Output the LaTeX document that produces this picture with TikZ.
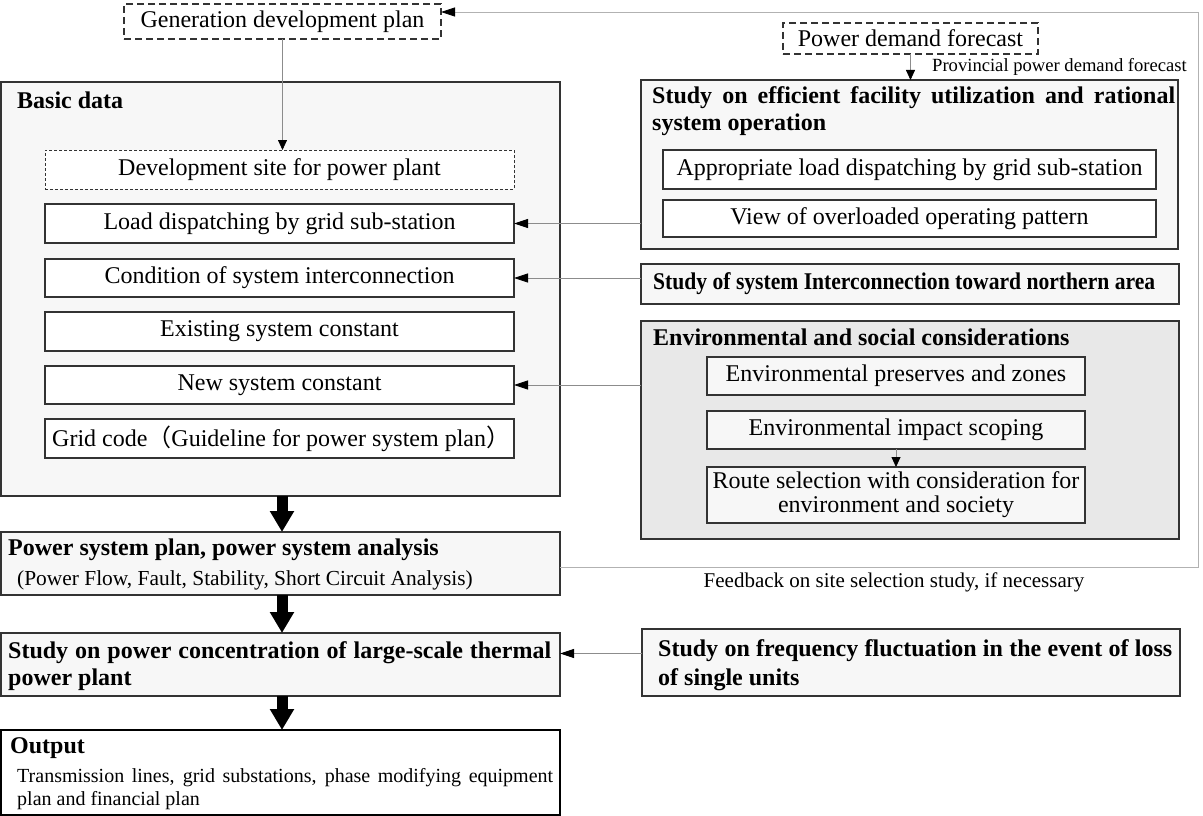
\documentclass[tikz,border=0pt]{standalone}
\usepackage{fontspec}
\setmainfont{Liberation Serif}
\newfontfamily\cjk{Noto Sans CJK SC}
\usetikzlibrary{arrows.meta}
\definecolor{lightfill}{HTML}{F7F7F7}
\definecolor{envfill}{HTML}{E8E8E8}
\definecolor{boxline}{HTML}{333333}
\definecolor{conn}{HTML}{8C8C8C}
\begin{document}
\begin{tikzpicture}[x=1pt,y=-1pt,
  box/.style={draw=boxline, line width=1.4pt, anchor=north west, inner sep=0pt, outer sep=0pt, align=center},
  outerbox/.style={box, fill=lightfill, line width=1.6pt},
  inbox/.style={box, fill=white, line width=1.2pt},
  dashbox/.style={box, fill=white, dash pattern=on 7pt off 4pt, line width=1.5pt},
  finedash/.style={box, fill=white, dash pattern=on 3pt off 2pt, line width=1pt},
  rtxt/.style={font=\fontsize{24}{27}\selectfont},
  btxt/.style={font=\fontsize{24}{27}\selectfont\bfseries},
  ttl/.style={btxt, inner sep=0pt, anchor=west},
  harr/.style={draw=conn, line width=0.8pt, -{Triangle[length=14pt,width=9pt,color=black]}},
  varr/.style={draw=conn, line width=0.8pt, -{Triangle[length=10pt,width=9pt,color=black]}},
  bigarr/.style={line width=11pt, black, -{Triangle[length=21pt,width=23pt]}},
  fbline/.style={draw=black!30, line width=0.8pt, -{Triangle[length=14pt,width=9pt,color=black]}}
]
\useasboundingbox (0,0) rectangle (1203,816);

% top dashed sources
\node[dashbox, rtxt, minimum width=317pt, minimum height=35pt] (gen) at (124,4) {Generation development plan};
\node[dashbox, rtxt, minimum width=255pt, minimum height=31pt] (pd) at (783,23) {Power demand forecast};

% Basic data
\node[outerbox, minimum width=559pt, minimum height=414pt] (basic) at (1,82) {};
\node[ttl] (basict) at (17,100) {Basic data};
\node[finedash, rtxt, minimum width=469pt, minimum height=39pt] (dev) at (45,150) {Development site for power plant};
\node[inbox, rtxt, minimum width=469pt, minimum height=39pt] (load) at (45,204) {Load dispatching by grid sub-station};
\node[inbox, rtxt, minimum width=469pt, minimum height=38pt] (cond) at (45,259) {Condition of system interconnection};
\node[inbox, rtxt, minimum width=469pt, minimum height=39pt] (exist) at (45,312) {Existing system constant};
\node[inbox, rtxt, minimum width=469pt, minimum height=38pt] (new) at (45,366) {New system constant};
\node[inbox, minimum width=469pt, minimum height=39pt] (grid) at (45,419) {};
\node[rtxt, anchor=west, inner sep=0pt] (gridt) at (52,438.5) {Grid code{\cjk （}Guideline for power system plan{\cjk ）}};

% Study on efficient facility
\node[outerbox, minimum width=537pt, minimum height=169pt] (study) at (641,80) {};
\node[btxt, anchor=north west, inner sep=0pt, text width=523pt, align=justify] (studyt) at (652,86) {Study on efficient facility utilization and rational system operation};
\node[inbox, rtxt, minimum width=493pt, minimum height=39pt] (app) at (663,150) {Appropriate load dispatching by grid sub-station};
\node[inbox, rtxt, minimum width=493pt, minimum height=37pt] (view) at (663,200) {View of overloaded operating pattern};
\node[anchor=west, inner sep=0pt, font=\fontsize{18.6}{21}\selectfont] (prov) at (932,67) {Provincial power demand forecast};

% Interconnection
\node[outerbox, minimum width=538pt, minimum height=40pt] (inter) at (641,264) {};
\node[ttl] (intert) at (653,284) {\scalebox{0.9}[1]{Study of system Interconnection toward northern area}};

% Environmental
\node[outerbox, fill=envfill, minimum width=538pt, minimum height=218pt] (env) at (641,321) {};
\node[ttl] (envt) at (653,337) {Environmental and social considerations};
\node[inbox, fill=lightfill, rtxt, minimum width=378pt, minimum height=38pt] (pres) at (707,357) {Environmental preserves and zones};
\node[inbox, fill=lightfill, rtxt, minimum width=378pt, minimum height=38pt] (imp) at (707,411) {Environmental impact scoping};
\node[inbox, fill=lightfill, font=\fontsize{24}{24}\selectfont, minimum width=378pt, minimum height=56pt] (route) at (707,467) {Route selection with consideration for\\environment and society};

% Power system plan
\node[outerbox, minimum width=559pt, minimum height=63pt] (psp) at (1,532) {};
\node[ttl] (pspt) at (8,550) {Power system plan, power system analysis};
\node[anchor=west, inner sep=0pt, font=\fontsize{21.4}{24}\selectfont] (psps) at (17,580) {(Power Flow, Fault, Stability, Short Circuit Analysis)};
\node[font=\fontsize{21}{24}\selectfont, inner sep=0pt] (fbtxt) at (894,582) {Feedback on site selection study, if necessary};

% Power concentration
\node[outerbox, minimum width=559pt, minimum height=63pt] (conc) at (1,633) {};
\node[btxt, anchor=north west, inner sep=0pt, text width=543pt, align=justify] (conct) at (8,641) {Study on power concentration of large-scale thermal power plant};

% Frequency
\node[outerbox, minimum width=538pt, minimum height=67pt] (freq) at (642,629) {};
\node[btxt, anchor=north west, inner sep=0pt, text width=514pt, align=justify, font=\fontsize{24}{29}\selectfont\bfseries] (freqt) at (658,639) {Study on frequency fluctuation in the event of loss of single units};

% Output
\node[box, fill=white, draw=black, line width=2.4pt, minimum width=559pt, minimum height=85pt] (out) at (1,730) {};
\node[ttl] (outt) at (10,748) {Output};
\node[anchor=north west, inner sep=0pt, text width=536pt, align=justify, font=\fontsize{20}{23}\selectfont] (outb) at (17,768) {Transmission lines, grid substations, phase modifying equipment plan and financial plan};

% connectors
\draw[varr] (gen.south) -- (gen.south |- dev.north);
\draw[varr] (pd.south) -- (pd.south |- study.north);
\draw[harr] (study.west |- load.east) -- (load.east);
\draw[harr] (inter.west |- cond.east) -- (cond.east);
\draw[harr] (env.west |- new.east) -- (new.east);
\draw[varr] (imp.south) -- (route.north);
\draw[harr] ([yshift=9pt]freq.west) -- ([yshift=9pt]freq.west -| conc.east);
\coordinate (fbr) at (1198,567);
\coordinate (fbtop) at (1198,12);
\draw[fbline] (psp.east |- fbr) -- (fbr) -- (fbtop) -- (fbtop -| gen.east);

% thick arrows
\draw[bigarr] (basic.south -| 282,0) -- (psp.north -| 282,0);
\draw[bigarr] (psp.south -| 282,0) -- (conc.north -| 282,0);
\draw[bigarr] (conc.south -| 282,0) -- (out.north -| 282,0);
\end{tikzpicture}
\end{document}
